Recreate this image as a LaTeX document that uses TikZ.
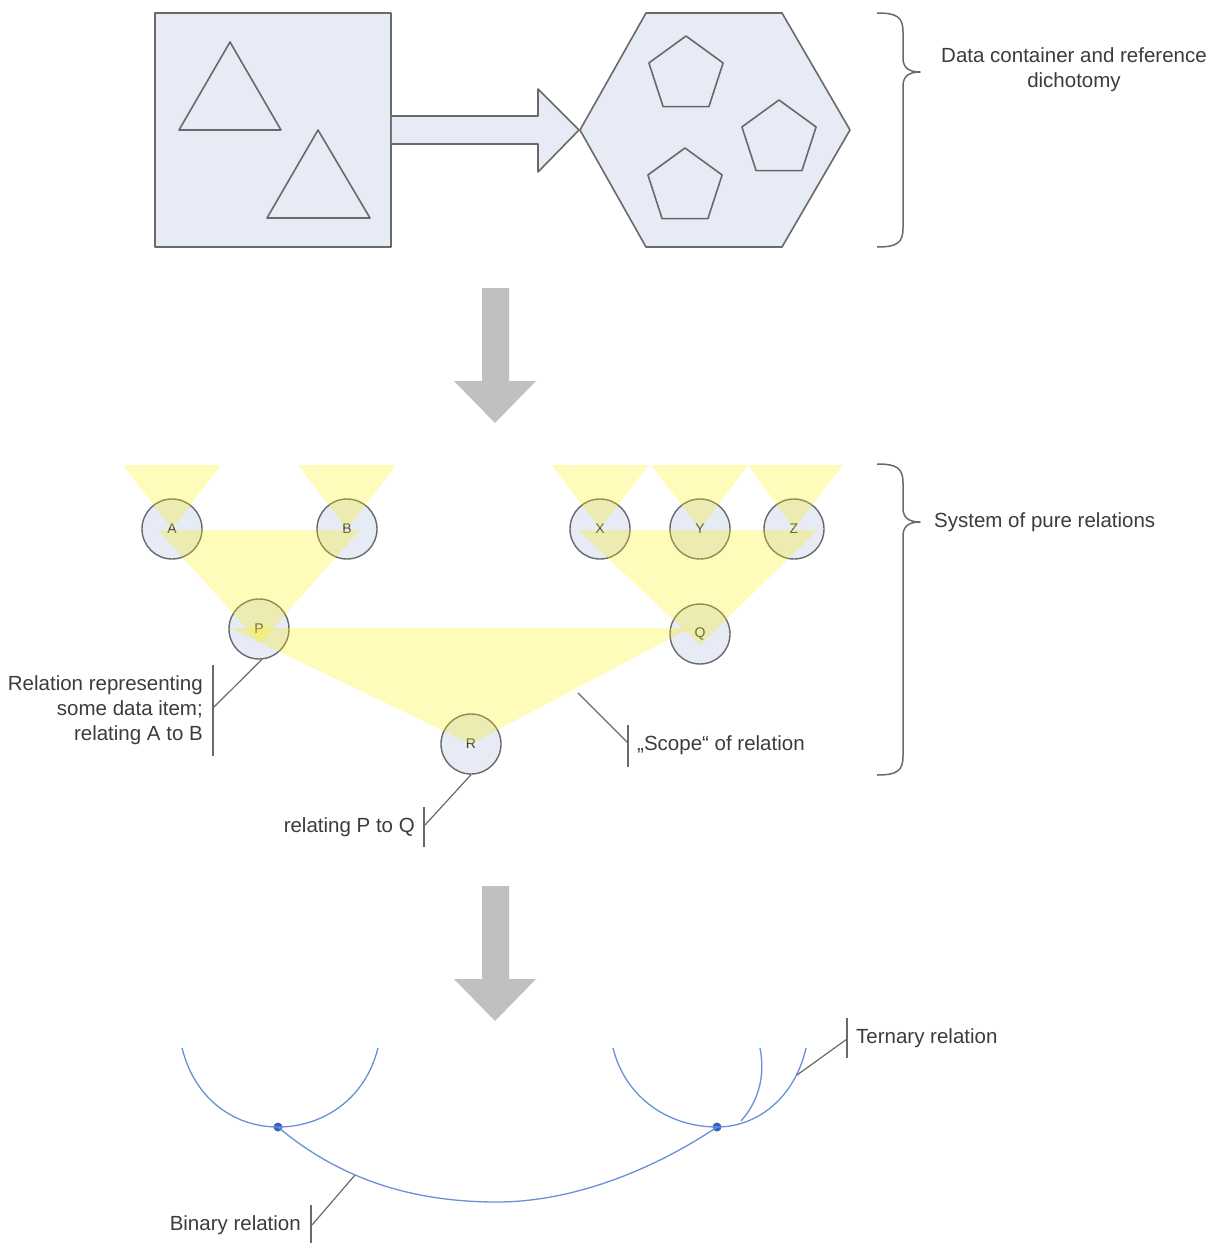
\documentclass[tikz,border=0pt]{standalone}
\usepackage{fontspec}
\setmainfont{Liberation Sans}
\usetikzlibrary{shapes.geometric}
\definecolor{boxfill}{RGB}{230,235,245}
\definecolor{shapegray}{RGB}{105,105,105}
\definecolor{textgray}{RGB}{60,60,60}
\definecolor{arrowgray}{RGB}{192,192,192}
\definecolor{relblue}{RGB}{105,145,215}
\definecolor{dotblue}{RGB}{50,100,195}
\begin{document}
\begin{tikzpicture}[x=1pt,y=-1pt,line join=round,
  shapeline/.style={draw=shapegray,line width=1.6pt},
  boxshape/.style={shapeline,fill=boxfill},
  relnode/.style={circle,draw=shapegray,line width=1.4pt,fill=boxfill,minimum size=60pt,inner sep=0pt,
    font=\fontsize{14}{14}\selectfont,text=textgray},
  penta/.style={regular polygon,regular polygon sides=5,minimum size=78pt,inner sep=0pt,shapeline},
  lbl/.style={font=\fontsize{20.5}{25}\selectfont,text=textgray,inner sep=0pt},
  callout/.style={draw=shapegray,line width=1.2pt},
  calloutbar/.style={draw=shapegray,line width=2.2pt},
  bigarrow/.style={fill=arrowgray},
  scopefill/.style={fill=yellow,fill opacity=0.27},
  bracepath/.style={draw=shapegray,line width=1.5pt},
  relcurve/.style={draw=relblue,line width=1.3pt},
  reldot/.style={circle,fill=dotblue,minimum size=9pt,inner sep=0pt}]
\useasboundingbox (0,0) rectangle (1215,1243);
\fill[white] (0,0) rectangle (1215,1243);

% ---- data container and references ----
\node[boxshape,minimum width=236pt,minimum height=234pt,inner sep=0pt] (container) at (273,130) {};
\draw[shapeline] (230,42) -- (281,130) -- (179,130) -- cycle;
\draw[shapeline] (318,130) -- (370,218) -- (267,218) -- cycle;
\draw[boxshape] (580,130) -- (646,13) -- (782,13) -- (850,130) -- (782,247) -- (646,247) -- cycle;
\node[penta] (pa) at (686,75) {};
\node[penta] (pb) at (779,139) {};
\node[penta] (pc) at (685,187) {};
\draw[boxshape] (container.east |- 0,116) -- (538,116) -- (538,89) -- (579,130) -- (538,172)
  -- (538,144) -- (container.east |- 0,144);

\draw[bracepath] (877,13) .. controls (897,13) and (903,17) .. (903,32) -- (903,58)
  .. controls (903,67) and (908,72) .. (920,72) .. controls (908,72) and (903,77) .. (903,86)
  -- (903,228) .. controls (903,243) and (897,247) .. (877,247);
\node[lbl,align=center] (dichotomy) at (1074,70) {Data container and reference\\dichotomy};

% ---- transition arrows ----
\fill[bigarrow] (482,288) -- (509,288) -- (509,381) -- (536,381) -- (495,423) -- (454,381) -- (482,381) -- cycle;
\fill[bigarrow] (482,886) -- (509,886) -- (509,979) -- (536,979) -- (495,1021) -- (454,979) -- (482,979) -- cycle;

% ---- system of pure relations ----
\node[relnode] (A) at (172,529) {A};
\node[relnode] (B) at (347,529) {B};
\node[relnode] (X) at (600,529) {X};
\node[relnode] (Y) at (700,529) {Y};
\node[relnode] (Z) at (794,529) {Z};
\node[relnode] (P) at (259,629) {P};
\node[relnode] (Q) at (700,634) {Q};
\node[relnode] (R) at (471,744) {R};

% scopes of the relations
\fill[scopefill] (123,465) -- (221,465) -- (A.center) -- cycle;
\fill[scopefill] (298,465) -- (396,465) -- (B.center) -- cycle;
\fill[scopefill] (552,465) -- (649,465) -- (X.center) -- cycle;
\fill[scopefill] (651,465) -- (748,465) -- (Y.center) -- cycle;
\fill[scopefill] (748,465) -- (843,465) -- (Z.center) -- cycle;
\fill[scopefill] (158,530) -- (360,530) -- (260,643) -- cycle;
\fill[scopefill] (578,530) -- (818,530) -- (700,645) -- cycle;
\fill[scopefill] (230,628) -- (690,628) -- (R.center) -- cycle;

\draw[bracepath] (877,464) .. controls (897,464) and (903,468) .. (903,483) -- (903,508)
  .. controls (903,517) and (908,522) .. (920,522) .. controls (908,522) and (903,527) .. (903,536)
  -- (903,756) .. controls (903,771) and (897,775) .. (877,775);
\node[lbl,anchor=west] (system) at (934,522) {System of pure relations};

% callout: relation P
\coordinate (pknee) at (213,708);
\draw[callout] (P.-85) -- (pknee);
\draw[calloutbar] (213,665) -- (213,756);
\node[lbl,anchor=east,align=right] (plabel) at (203,710) {Relation representing\\some data item;\\relating A to B};

% callout: relation R
\coordinate (rknee) at (425,825);
\draw[callout] (R.-90) -- (rknee);
\draw[calloutbar] (424,807) -- (424,847);
\node[lbl,anchor=east] (rlabel) at (415,827) {relating P to Q};

% callout: scope
\coordinate (scopept) at (578,693);
\coordinate (scopeknee) at (628,743);
\draw[callout] (scopept) -- (scopeknee);
\draw[calloutbar] (628,725) -- (628,767);
\node[lbl,anchor=west] (scopelabel) at (637,745) {„Scope“ of relation};

% ---- hypergraph view ----
\node[reldot] (ldot) at (278,1127) {};
\node[reldot] (rdot) at (717,1127) {};
\draw[relcurve] (182,1048) .. controls (195,1100) and (235,1127) .. (ldot.center)
  .. controls (322,1127) and (365,1100) .. (378,1048);
\draw[relcurve] (613,1048) .. controls (626,1100) and (671,1127) .. (rdot.center)
  .. controls (758,1127) and (795,1097) .. (806,1048);
\draw[relcurve] (741,1121) .. controls (757,1103) and (766,1078) .. (760,1048);
\draw[relcurve] (ldot.center) .. controls (350,1188) and (430,1202) .. (497,1202)
  .. controls (570,1202) and (650,1172) .. (rdot.center);

% callout: ternary relation
\coordinate (tpt) at (797,1075);
\coordinate (tknee) at (847,1039);
\draw[callout] (tpt) -- (tknee);
\draw[calloutbar] (847,1018) -- (847,1058);
\node[lbl,anchor=west] (tlabel) at (856,1038) {Ternary relation};

% callout: binary relation
\coordinate (bpt) at (355,1175);
\coordinate (bknee) at (312,1225);
\draw[callout] (bpt) -- (bknee);
\draw[calloutbar] (311,1205) -- (311,1246);
\node[lbl,anchor=east] (blabel) at (301,1225) {Binary relation};
\end{tikzpicture}
\end{document}
